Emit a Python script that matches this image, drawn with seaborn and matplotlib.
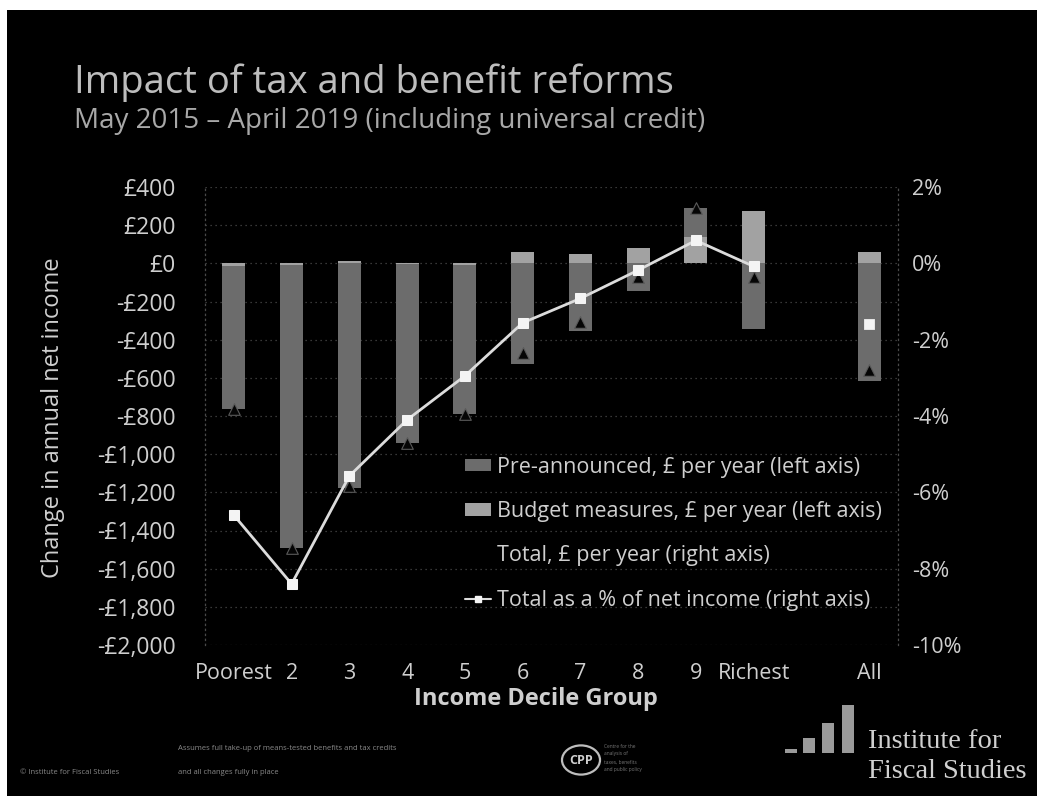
import numpy as np
import pandas as pd
import matplotlib
matplotlib.use("Agg")
import matplotlib.pyplot as plt
from matplotlib.patches import Rectangle, Circle, Patch
from matplotlib.lines import Line2D
import seaborn as sns

# ---- data -------------------------------------------------------------
group_labels = ["Poorest", "2", "3", "4", "5", "6", "7", "8", "9", "Richest", "All"]
group_slots = [0, 1, 2, 3, 4, 5, 6, 7, 8, 9, 11]          # gap before "All"
pre_announced = [-750, -1480, -1175, -935, -780, -530, -356, -147, 150, -345, -618]
budget_measures = [-15, -10, 10, -5, -10, 58, 47, 78, 140, 272, 60]
total_pct = [-6.6, -8.4, -5.57, -4.1, -2.95, -1.56, -0.92, -0.18, 0.6, -0.08, -1.6]
left_ticks = [400, 200, 0, -200, -400, -600, -800, -1000, -1200, -1400, -1600, -1800, -2000]
right_ticks = [2, 0, -2, -4, -6, -8, -10]

df = pd.DataFrame({
    "slot": group_slots,
    "label": group_labels,
    "pre": pre_announced,
    "budget": budget_measures,
    "pct": total_pct,
})
df["total"] = df["pre"] + df["budget"]
# budget measures sit next to zero; pre-announced stacks on them when same sign
df["pre_bottom"] = np.where(np.sign(df["pre"]) == np.sign(df["budget"]), df["budget"], 0)

# ---- style ------------------------------------------------------------
sns.set_theme(style="dark")
BG = "#000000"
TXT = "#cfcfcf"
plt.rcParams.update({
    "figure.facecolor": BG,
    "axes.facecolor": BG,
    "savefig.facecolor": BG,
    "text.color": TXT,
    "axes.labelcolor": TXT,
    "xtick.color": TXT,
    "ytick.color": TXT,
    "patch.edgecolor": "none",
})
plt.rcParams["font.family"] = ["Open Sans", "DejaVu Sans"]

W, H = 1037, 796
fig = plt.figure(figsize=(W / 100, H / 100), dpi=100)

def fx(px):
    return px / W

def fy(py):
    return 1 - py / H

# white strip along the top and left edges of the slide scan
fig.patches.append(Rectangle((0, fy(10)), 1, 1 - fy(10), transform=fig.transFigure,
                             facecolor="white", edgecolor="none", zorder=-5))
fig.patches.append(Rectangle((0, 0), fx(7), 1, transform=fig.transFigure,
                             facecolor="white", edgecolor="none", zorder=-5))

ax = fig.add_axes([fx(205), fy(645), fx(898) - fx(205), fy(187) - fy(645)])
ax.set_facecolor(BG)

PRE_C = "#6c6c6c"
BUD_C = "#a2a2a2"
bar_w = 0.4

ax.bar(df["slot"], df["budget"], width=bar_w, color=BUD_C, edgecolor="none", linewidth=0, zorder=2)
ax.bar(df["slot"], df["pre"], width=bar_w, bottom=df["pre_bottom"], color=PRE_C,
       edgecolor="none", linewidth=0, zorder=2)

# total in pounds: dark triangles at the net position
sns.scatterplot(data=df, x="slot", y="total", ax=ax, marker="^", s=70,
                color="#050505", edgecolor="#5a5a5a", linewidth=0.8, zorder=3, legend=False)

ax.set_xlim(-0.5, 11.5)
ax.set_ylim(-2000, 400)
ax.set_yticks(left_ticks)
ax.set_yticklabels([("-" if v < 0 else "") + "£" + f"{abs(v):,}" for v in left_ticks])
ax.set_xticks(group_slots)
ax.set_xticklabels(group_labels)
ax.tick_params(axis="y", length=0, pad=21, labelsize=16.5, labelcolor=TXT)
ax.tick_params(axis="x", length=0, pad=13, labelsize=15.5, labelcolor=TXT)
ax.grid(axis="y", color="#4a4a4a", linestyle=(0, (1, 3)), linewidth=0.9, zorder=0)
ax.grid(axis="x", visible=False)
for side in ["left", "right"]:
    ax.spines[side].set_visible(True)
    ax.spines[side].set_color("#4a4a4a")
    ax.spines[side].set_linestyle((0, (1, 3)))
    ax.spines[side].set_linewidth(0.9)
for side in ["top", "bottom"]:
    ax.spines[side].set_visible(False)
ax.set_xlabel("")
ax.set_ylabel("")

# percentage of net income on the right axis
ax2 = ax.twinx()
ax2.set_ylim(-10, 2)
ax2.set_yticks(right_ticks)
ax2.set_yticklabels([f"{v}%" for v in right_ticks])
ax2.tick_params(axis="y", length=0, pad=10, labelsize=15.5, labelcolor=TXT)
for s in ax2.spines.values():
    s.set_visible(False)
ax2.grid(False)

LINE_C = "#dcdcdc"
deciles = df.iloc[:10]
sns.lineplot(data=deciles, x="slot", y="pct", ax=ax2, color=LINE_C, linewidth=2,
             marker="s", markersize=7, markerfacecolor="#f4f4f4",
             markeredgecolor="#f4f4f4", zorder=4)
sns.scatterplot(data=df.iloc[10:], x="slot", y="pct", ax=ax2, marker="s", s=50,
                color="#f4f4f4", edgecolor="#f4f4f4", zorder=4, legend=False)
ax2.set_xlabel("")
ax2.set_ylabel("")

# legend
handles = [
    Patch(facecolor=PRE_C, edgecolor="none"),
    Patch(facecolor=BUD_C, edgecolor="none"),
    Line2D([], [], marker="^", color=BG, markerfacecolor=BG, markeredgecolor=BG, linestyle="none"),
    Line2D([], [], color=LINE_C, linewidth=1.5, marker="s", markersize=5,
           markerfacecolor="#f4f4f4", markeredgecolor="#f4f4f4"),
]
labels = [
    "Pre-announced, £ per year (left axis)",
    "Budget measures, £ per year (left axis)",
    "Total, £ per year (right axis)",
    "Total as a % of net income (right axis)",
]
leg = ax2.legend(handles, labels, loc="upper left", bbox_to_anchor=(fx(465), fy(457)),
                 bbox_transform=fig.transFigure, frameon=False, fontsize=15.5,
                 labelcolor=TXT, borderpad=0, borderaxespad=0, handlelength=1.2,
                 handleheight=0.5, handletextpad=0.3, labelspacing=1.08)

# titles and axis labels
fig.text(fx(74), fy(93), "Impact of tax and benefit reforms", fontsize=27.5,
         color="#bdbdbd", va="baseline", ha="left")
fig.text(fx(74), fy(128), "May 2015 \u2013 April 2019 (including universal credit)",
         fontsize=20, color="#a8a8a8", va="baseline", ha="left")
fig.text(fx(53), fy(418), "Change in annual net income", fontsize=17, color=TXT,
         rotation=90, va="center", ha="center")
fig.text(fx(536), fy(699), "Income Decile Group", fontsize=17, color=TXT,
         fontweight="bold", va="center", ha="center")

# footer
FOOT = "#8a8a8a"
fig.text(fx(20), fy(772), "\u00a9 Institute for Fiscal Studies", fontsize=5.5, color=FOOT, va="center")
fig.text(fx(178), fy(748), "Assumes full take-up of means-tested benefits and tax credits",
         fontsize=5.5, color=FOOT, va="center")
fig.text(fx(178), fy(772), "and all changes fully in place", fontsize=5.5, color=FOOT, va="center")

fig.patches.append(Circle((fx(581), fy(760)), 19 / W, transform=fig.transFigure,
                          facecolor="none", edgecolor="#bdbdbd", linewidth=1.6))
fig.text(fx(581), fy(761), "CPP", fontsize=9, fontweight="bold", color="#cfcfcf",
         ha="center", va="center")
for i, t in enumerate(["Centre for the", "analysis of", "taxes, benefits", "and public policy"]):
    fig.text(fx(604), fy(746 + i * 8), t, fontsize=3.5, color="#777777", va="center")

# IFS logo bars and wordmark
for x0, top in [(785, 749), (803, 738), (822, 723), (842, 705)]:
    fig.patches.append(Rectangle((fx(x0), fy(753)), 12 / W, (753 - top) / H,
                                 transform=fig.transFigure, facecolor="#9a9a9a", edgecolor="none"))
fig.text(fx(868), fy(742), "Institute for", fontsize=20.5, color="#d0d0d0",
         family=["Liberation Serif", "DejaVu Serif"], va="center", ha="left")
fig.text(fx(868), fy(772), "Fiscal Studies", fontsize=20.5, color="#d0d0d0",
         family=["Liberation Serif", "DejaVu Serif"], va="center", ha="left")

fig.savefig("out.png", dpi=100, facecolor=BG)
